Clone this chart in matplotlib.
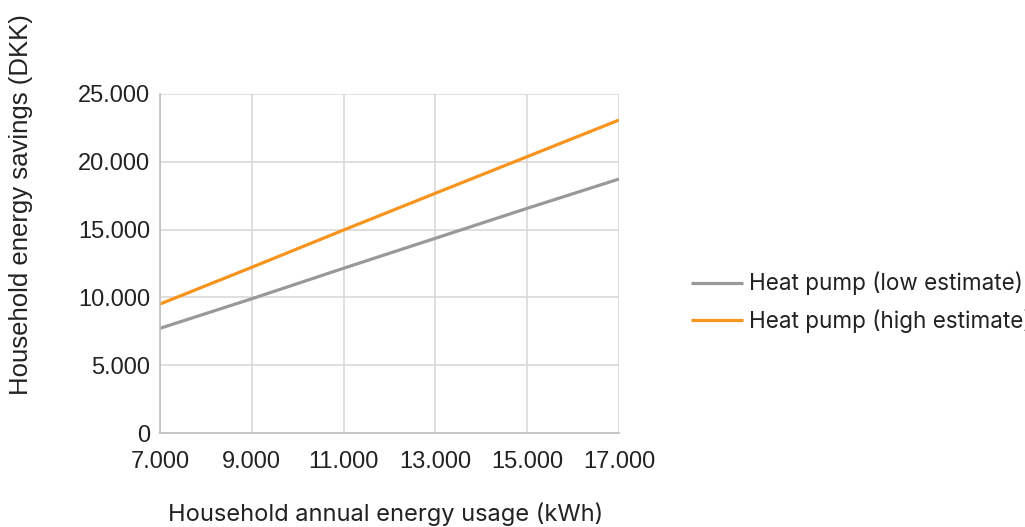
import matplotlib
matplotlib.use("Agg")
import matplotlib.pyplot as plt
from matplotlib.ticker import FuncFormatter

usage_kwh = [7000, 9000, 11000, 13000, 15000, 17000]
low_estimate = [7720, 9900, 12150, 14360, 16570, 18730]
high_estimate = [9510, 12220, 14970, 17680, 20380, 23080]
series_labels = ["Heat pump (low estimate)", "Heat pump (high estimate)"]
x_ticks = [7000, 9000, 11000, 13000, 15000, 17000]
y_ticks = [0, 5000, 10000, 15000, 20000, 25000]

FONT = ["Inter", "DejaVu Sans"]
ARIAL = ["Liberation Sans", "DejaVu Sans"]
TXT = "#222222"

fig = plt.figure(figsize=(10.25, 5.27), dpi=100)
ax = fig.add_axes([160/1025, 1 - 433/527, (619-160)/1025, (433-94)/527])

ax.plot(usage_kwh, low_estimate, color="#999999", lw=2.3, label=series_labels[0], solid_capstyle="butt")
ax.plot(usage_kwh, high_estimate, color="#f7941d", lw=2.3, label=series_labels[1], solid_capstyle="butt")

ax.set_xlim(7000, 17000)
ax.set_ylim(0, 25000)
ax.set_xticks(x_ticks)
ax.set_yticks(y_ticks)
fmt = FuncFormatter(lambda v, p: f"{int(v):,}".replace(",", "."))
ax.xaxis.set_major_formatter(fmt)
ax.yaxis.set_major_formatter(fmt)
ax.grid(True, color="#d9d9d9", lw=1.2)
ax.set_axisbelow(True)
for s in ["top", "right"]:
    ax.spines[s].set_visible(False)
for s in ["left", "bottom"]:
    ax.spines[s].set_color("#bfbfbf")
    ax.spines[s].set_linewidth(1.2)
ax.tick_params(length=0, labelsize=17, colors=TXT)
ax.tick_params(axis="x", pad=13)
ax.tick_params(axis="y", pad=7)
for lab in ax.get_xticklabels() + ax.get_yticklabels():
    lab.set_family(ARIAL)

fig.text(21/1025, 1 - 205/527, "Household energy savings (DKK)", rotation=90,
         ha="center", va="center", fontsize=18.5, family=ARIAL, color=TXT)
fig.text(386/1025, 1 - 514/527, "Household annual energy usage (kWh)",
         ha="center", va="center", fontsize=17, family=FONT, color=TXT)

leg = fig.legend(loc="center left", bbox_to_anchor=(691/1025, 1 - 302.5/527),
                 frameon=False, handlelength=2.3, handletextpad=0.27,
                 labelspacing=0.63, borderpad=0, borderaxespad=0,
                 prop={"family": FONT, "size": 16.2})
for t in leg.get_texts():
    t.set_color(TXT)

fig.savefig("out.png", dpi=100)
